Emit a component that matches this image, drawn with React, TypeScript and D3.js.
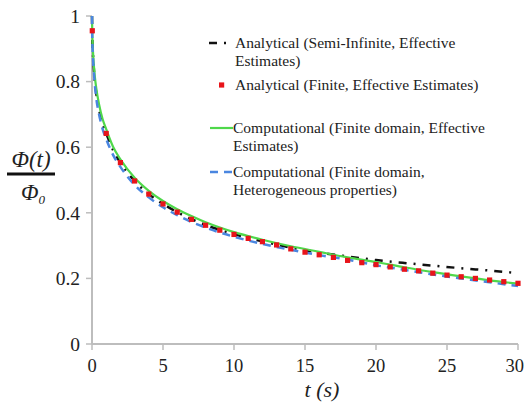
import React from "react";
import * as d3 from "d3";

const lineT = [0, 0.02, 0.05, 0.1, 0.2, 0.3, 0.5, 0.75, 1, 1.5, 2, 3, 4, 5, 6, 7, 8, 9, 10, 12, 14, 16, 18, 20, 22, 24, 26, 28, 30];
const semiInfinite = [1, 0.94, 0.9, 0.86, 0.8, 0.765, 0.715, 0.67, 0.642, 0.59, 0.553, 0.497, 0.457, 0.427, 0.402, 0.381, 0.363, 0.348, 0.335, 0.313, 0.294, 0.279, 0.267, 0.256, 0.247, 0.239, 0.231, 0.224, 0.216];
const compEffective = [1, 0.95, 0.91, 0.87, 0.815, 0.78, 0.73, 0.685, 0.655, 0.6, 0.563, 0.507, 0.467, 0.436, 0.411, 0.39, 0.371, 0.355, 0.341, 0.318, 0.298, 0.281, 0.264, 0.25, 0.234, 0.219, 0.206, 0.194, 0.184];
const compHetero = [1, 0.93, 0.89, 0.85, 0.79, 0.75, 0.7, 0.655, 0.625, 0.575, 0.54, 0.485, 0.447, 0.417, 0.393, 0.372, 0.355, 0.34, 0.327, 0.305, 0.287, 0.271, 0.257, 0.24, 0.226, 0.212, 0.2, 0.188, 0.177];

const finiteT = [0.02, 1, 2, 3, 4, 5, 6, 7, 8, 9, 10, 11, 12, 13, 14, 15, 16, 17, 18, 19, 20, 21, 22, 23, 24, 25, 26, 27, 28, 29, 30];
const finiteVals = [0.955, 0.642, 0.553, 0.497, 0.457, 0.427, 0.402, 0.38, 0.362, 0.347, 0.334, 0.322, 0.312, 0.302, 0.29, 0.28, 0.272, 0.264, 0.255, 0.248, 0.242, 0.235, 0.228, 0.223, 0.216, 0.21, 0.205, 0.2, 0.195, 0.19, 0.185];

const xTicks = [0, 5, 10, 15, 20, 25, 30];
const yTicks = [0, 0.2, 0.4, 0.6, 0.8, 1];

const legendLabels = [
  ["Analytical (Semi-Infinite, Effective", "Estimates)"],
  ["Analytical (Finite, Effective Estimates)"],
  ["Computational (Finite domain, Effective", "Estimates)"],
  ["Computational (Finite domain,", "Heterogeneous properties)"],
];

const SERIF = '"Liberation Serif", "DejaVu Serif", "Times New Roman", Times, serif';

export default function App() {
  const x = d3.scaleLinear().domain([0, 30]).range([92, 518]);
  const y = d3.scaleLinear().domain([0, 1]).range([344, 16]);
  const mk = (vals: number[]) =>
    d3
      .line<number>()
      .x((_, i) => x(lineT[i]))
      .y((d) => y(d))
      .curve(d3.curveMonotoneX)(vals) as string;

  const axisColor = "#bdbdbd";
  const legendY = [43, 85, 128, 172];
  const ts = { fontFamily: SERIF };

  return (
    <svg width={525} height={402} style={{ position: "absolute", left: 0, top: 0, background: "#fff" }}>
      {/* axes */}
      <line x1={92} x2={92} y1={y(1)} y2={y(0)} stroke={axisColor} strokeWidth={2} />
      <line x1={92} x2={x(30)} y1={y(0)} y2={y(0)} stroke={axisColor} strokeWidth={2} />
      {yTicks.map((t) => (
        <g key={"y" + t}>
          <line x1={86} x2={92} y1={y(t)} y2={y(t)} stroke={axisColor} strokeWidth={1.5} />
          <text style={ts} x={80} y={y(t)} dy="0.35em" textAnchor="end" fontSize={19.5} fill="#222">
            {t === 0 || t === 1 ? String(t) : t.toFixed(1)}
          </text>
        </g>
      ))}
      {xTicks.map((t) => (
        <g key={"x" + t}>
          <line x1={x(t)} x2={x(t)} y1={344} y2={350} stroke={axisColor} strokeWidth={1.5} />
          <text
            style={ts}
            x={t === 30 ? 524 : x(t)}
            y={366}
            dy="0.35em"
            textAnchor={t === 30 ? "end" : "middle"}
            fontSize={18.5}
            fill="#222"
          >
            {t}
          </text>
        </g>
      ))}

      {/* axis titles */}
      <text style={ts} x={322} y={389} dy="0.35em" textAnchor="middle" fontSize={22} fontStyle="italic" fill="#222">
        t (s)
      </text>
      <text style={ts} x={31} y={159} dy="0.35em" textAnchor="middle" fontSize={23} fontStyle="italic" fill="#222">
        Φ(t)
      </text>
      <line x1={7} x2={55} y1={174} y2={174} stroke="#111" strokeWidth={3} />
      <text style={ts} x={21} y={192} dy="0.35em" fontSize={23} fontStyle="italic" fill="#222">
        Φ<tspan fontSize={13} dy="0.3em">0</tspan>
      </text>

      {/* series */}
      <path d={mk(semiInfinite)} fill="none" stroke="#111" strokeWidth={2.5} strokeDasharray="8,7,2,7" />
      <path d={mk(compEffective)} fill="none" stroke="#4fd84a" strokeWidth={2.2} />
      <path d={mk(compHetero)} fill="none" stroke="#4a86e0" strokeWidth={2.5} strokeDasharray="8,6" />
      {finiteT.map((t, i) => (
        <rect key={"m" + i} x={x(t) - 2.6} y={y(finiteVals[i]) - 2.6} width={5.2} height={5.2} fill="#e8141a" />
      ))}

      {/* legend */}
      <line x1={209} x2={228} y1={legendY[0]} y2={legendY[0]} stroke="#111" strokeWidth={2.5} strokeDasharray="8,7,2,7" />
      <rect x={219} y={legendY[1] - 2.6} width={5.2} height={5.2} fill="#e8141a" />
      <line x1={210} x2={233} y1={legendY[2]} y2={legendY[2]} stroke="#4fd84a" strokeWidth={2.2} />
      <line x1={210} x2={234} y1={legendY[3]} y2={legendY[3]} stroke="#4a86e0" strokeWidth={2.5} strokeDasharray="8,6" />
      {legendLabels.map((lines, i) => (
        <text style={ts} key={"l" + i} x={i < 2 ? 235 : 233} y={legendY[i]} fontSize={15.5} fill="#222">
          {lines.map((s, j) => (
            <tspan key={j} x={i < 2 ? 235 : 233} dy={j === 0 ? "0.35em" : 17.5}>
              {s}
            </tspan>
          ))}
        </text>
      ))}
    </svg>
  );
}
